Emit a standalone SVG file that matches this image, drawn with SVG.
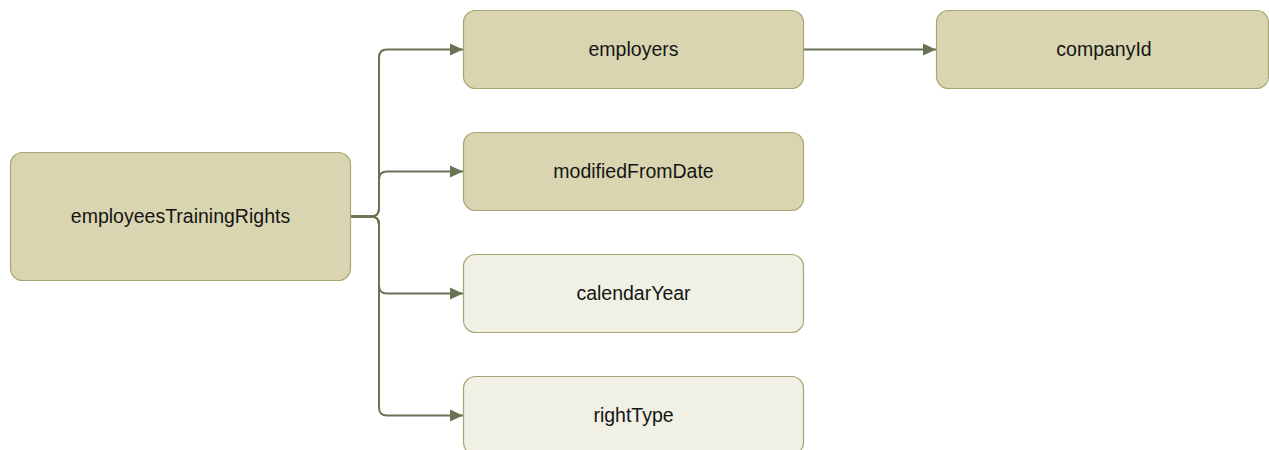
<svg xmlns="http://www.w3.org/2000/svg" width="1269" height="450" viewBox="0 0 1269 450">
  <style>
    .node rect { stroke: #A9A573; stroke-width: 1.2; }
    .dark rect { fill: #D9D5B0; }
    .light rect { fill: #F0F0E4; }
    .node text { font-family: "Liberation Sans", Arial, sans-serif; font-size: 19.5px; fill: #151515; text-anchor: middle; }
    .edge { fill: none; stroke: #687453; stroke-width: 2; marker-end: url(#arrow); }
  </style>
  <defs>
    <marker id="arrow" markerUnits="userSpaceOnUse" markerWidth="14" markerHeight="14" refX="13" refY="7" orient="auto">
      <path d="M0,1 L13,7 L0,13 z" fill="#687453"/>
    </marker>
  </defs>
  <rect width="1269" height="450" fill="#ffffff"/>
  <g id="connectors">
    <path class="edge" d="M350,216.5 H371 Q379,216.5 379,208.5 V57.5 Q379,49.5 387,49.5 H463"/>
    <path class="edge" d="M350,216.5 H371 Q379,216.5 379,208.5 V179.5 Q379,171.5 387,171.5 H463"/>
    <path class="edge" d="M350,216.5 H371 Q379,216.5 379,224.5 V285.5 Q379,293.5 387,293.5 H463"/>
    <path class="edge" d="M350,216.5 H371 Q379,216.5 379,224.5 V407.5 Q379,415.5 387,415.5 H463"/>
    <path class="edge" d="M803.5,49.5 H936"/>
  </g>
  <g id="employeesTrainingRights" class="node dark">
    <rect x="10.5" y="152.5" width="340" height="128" rx="12"/>
    <text x="180.5" y="223">employeesTrainingRights</text>
  </g>
  <g id="employers" class="node dark">
    <rect x="463.5" y="10.5" width="340" height="78" rx="12"/>
    <text x="633.5" y="56">employers</text>
  </g>
  <g id="companyId" class="node dark">
    <rect x="936.5" y="10.5" width="332" height="78" rx="12"/>
    <text x="1104" y="56">companyId</text>
  </g>
  <g id="modifiedFromDate" class="node dark">
    <rect x="463.5" y="132.5" width="340" height="78" rx="12"/>
    <text x="633.5" y="178">modifiedFromDate</text>
  </g>
  <g id="calendarYear" class="node light">
    <rect x="463.5" y="254.5" width="340" height="78" rx="12"/>
    <text x="633.5" y="300">calendarYear</text>
  </g>
  <g id="rightType" class="node light">
    <rect x="463.5" y="376.5" width="340" height="78" rx="12"/>
    <text x="633.5" y="422">rightType</text>
  </g>
</svg>
